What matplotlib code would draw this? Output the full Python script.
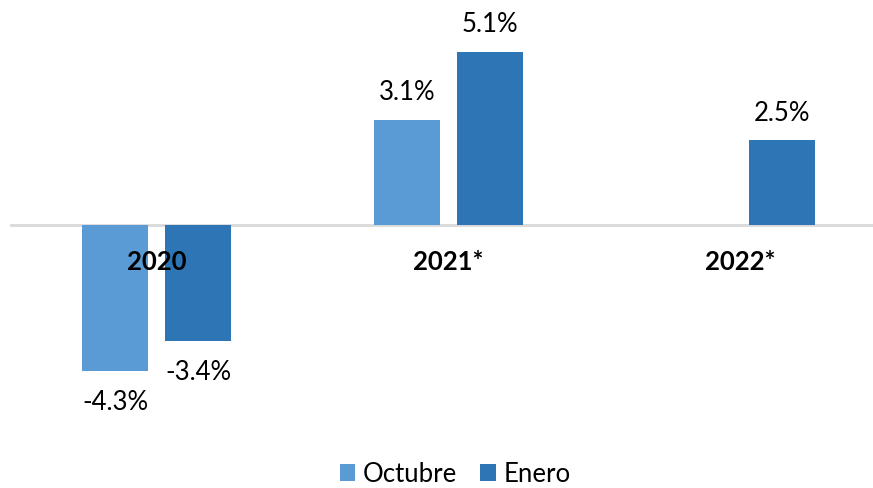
import numpy as np
import matplotlib.pyplot as plt

plt.rcParams['font.family'] = ['Lato', 'DejaVu Sans']

categories = ['2020', '2021*', '2022*']
octubre = [-4.3, 3.1, np.nan]
enero = [-3.4, 5.1, 2.5]
series_names = ['Octubre', 'Enero']
colors = ['#5B9BD5', '#2E75B6']

W, H = 873, 489
fig = plt.figure(figsize=(W / 100, H / 100), dpi=100)
# axes placed in pixel units
left, right, top, bottom = 10, 873, 0, 440
ax = fig.add_axes([left / W, 1 - bottom / H, (right - left) / W, (bottom - top) / H])

x = np.arange(len(categories))
px = 292.0  # pixels per category
bw = 66 / px
off = 41.5 / px

for vals, name, c, d in zip([octubre, enero], series_names, colors, [-off, off]):
    v = np.array(vals, dtype=float)
    bars = ax.bar(x + d, np.nan_to_num(v), bw, color=c, label=name, zorder=2)
    for xi, val in zip(x + d, v):
        if np.isnan(val):
            continue
        if val >= 0:
            ax.annotate(f'{val:.1f}%', (xi, val), xytext=(0, 11), textcoords='offset points',
                        ha='center', va='bottom', fontsize=18.5)
        else:
            ax.annotate(f'{val:.1f}%', (xi, val), xytext=(0, -13), textcoords='offset points',
                        ha='center', va='top', fontsize=18.5)

ax.axhline(0, color='#D9D9D9', lw=2, zorder=1)
for xi, cat in zip(x, categories):
    ax.annotate(cat, (xi, 0), xytext=(0, -26), textcoords='offset points',
                ha='center', va='center', fontsize=18.5, fontweight='bold', zorder=3)

ax.set_xlim(0 - (156.5 - left) / px, 2 + (right - 740.5) / px)
ax.set_ylim(-(bottom - 226) / 34.0, 226 / 34.0)
ax.axis('off')

fig.legend(loc='center', bbox_to_anchor=(455 / W, 1 - 475 / H), ncol=2, frameon=False,
           fontsize=18.5, handlelength=0.6, handleheight=0.6, handletextpad=0.3, columnspacing=0.9)

fig.savefig('out.png', dpi=100)
